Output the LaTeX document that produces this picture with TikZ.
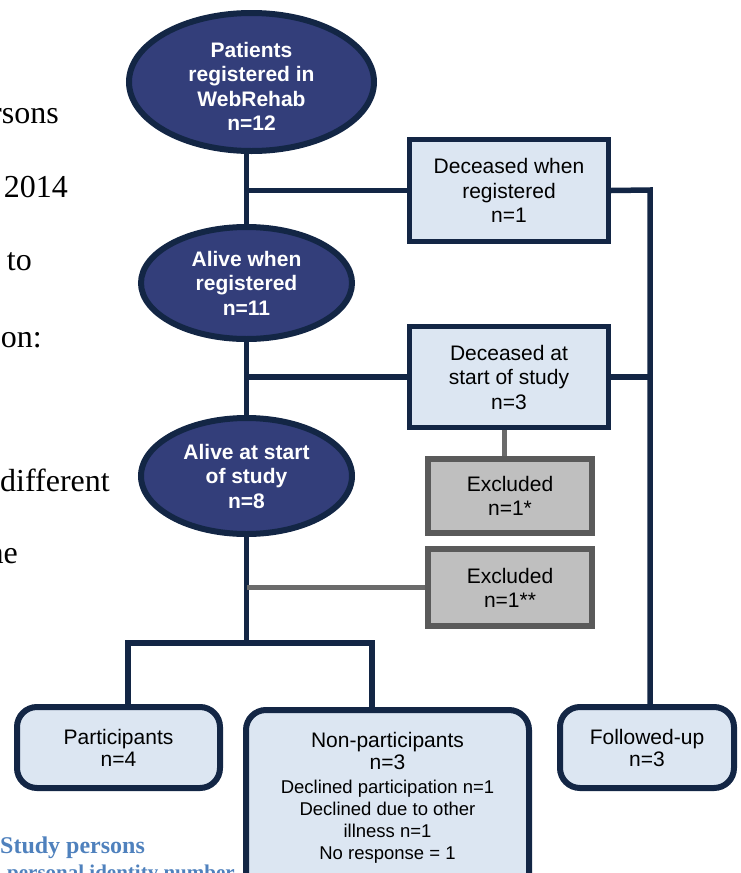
\documentclass[tikz,border=0pt]{standalone}
\usepackage{fontspec}
\setmainfont{Liberation Serif}
\newfontfamily\flowfont{Liberation Sans}
\usetikzlibrary{shapes.geometric}

\definecolor{navy}{HTML}{132645}
\definecolor{oval}{HTML}{333E7A}
\definecolor{pale}{HTML}{DCE6F2}
\definecolor{greyfill}{HTML}{BFBFBF}
\definecolor{greyedge}{HTML}{5A5A5A}
\definecolor{headblue}{HTML}{4F81BD}

\tikzset{
    stage/.style={ellipse, draw=navy, fill=oval, line width=6pt, inner sep=0pt,
        text=white, align=center, font=\flowfont\bfseries\fontsize{21}{24.5}\selectfont},
    stagetext/.style={text=white, align=center, inner sep=0pt,
        font=\flowfont\bfseries\fontsize{21}{24.5}\selectfont},
    dead/.style={rectangle, draw=navy, fill=pale, line width=5pt, inner sep=0pt,
        minimum width=199pt, align=center, font=\flowfont\fontsize{21}{24.5}\selectfont},
    excl/.style={rectangle, draw=greyedge, fill=greyfill, line width=6pt, inner sep=0pt,
        minimum width=164pt, align=center, font=\flowfont\fontsize{21}{24}\selectfont},
    outcome/.style={rectangle, rounded corners=20pt, draw=navy, fill=pale, line width=6pt,
        inner sep=0pt, minimum height=81pt, align=center, font=\flowfont\fontsize{21}{22}\selectfont},
    link/.style={draw=navy, line width=5.5pt},
    greylink/.style={draw=greyedge!90, line width=5pt},
    pagetext/.style={anchor=base east, inner sep=0pt, font=\fontsize{32}{38}\selectfont},
    headtext/.style={anchor=base west, inner sep=0pt, text=headblue, font=\bfseries}
}

\begin{document}
\begin{tikzpicture}[x=1pt,y=-1pt]
    \useasboundingbox (0,0) rectangle (741,873);
    \clip (0,0) rectangle (741,873);

    % text of the page behind the chart
    \node[pagetext] (persons) at (59,123) {rsons};
    \node[pagetext] (year) at (68,197) {2014};
    \node[pagetext] (to) at (32,270) {to};
    \node[pagetext] (colon) at (42,347) {on:};
    \node[pagetext] (different) at (110,491) {different};
    \node[pagetext] (the) at (18,563) {he};
    \node[headtext, font=\bfseries\fontsize{24}{29}\selectfont] (heading) at (0,853) {Study persons};
    \node[headtext, font=\bfseries\fontsize{21}{25}\selectfont] (identity) at (7,879) {personal identity number};

    % connectors
    \coordinate (rail) at (650,190);
    \coordinate (split) at (246.5,643);
    \coordinate (splitL) at (128,643);
    \coordinate (splitR) at (372,643);

    \node[stage, minimum width=245pt, minimum height=138pt,
        label={[stagetext, yshift=-4.5pt]center:{Patients\\registered in\\WebRehab\\n=12}}]
        (registered) at (251.5,82) {};
    \node[stage, minimum width=211pt, minimum height=112pt] (alive) at (246.5,283)
        {Alive when\\registered\\n=11};
    \node[stage, minimum width=211pt, minimum height=116pt] (start) at (246.5,476)
        {Alive at start\\of study\\n=8};

    \node[dead, minimum height=102pt] (deadreg) at (509,190.5) {Deceased when\\registered\\n=1};
    \node[dead, minimum height=101pt] (deadstart) at (509,377) {Deceased at\\start of study\\n=3};

    \node[excl, minimum height=74pt] (exclA) at (510,496) {Excluded\\n=1*};
    \node[excl, minimum height=77pt] (exclB) at (510,587.5) {Excluded\\n=1**};

    \node[outcome, minimum width=203pt] (part) at (118.5,747.5) {Participants\\n=4};
    \node[outcome, minimum width=174pt] (followed) at (647,747.5) {Followed-up\\n=3};
    \node[outcome, anchor=north, inner xsep=6pt, inner ysep=22pt] (nonpart) at (387.5,707)
        {\parbox[t][175pt][t]{271pt}{\centering
            Non-participants\\n=3\par\vspace{3pt}
            {\fontsize{18.5}{21.7}\selectfont
            Declined participation n=1\\Declined due to other\\illness n=1\\No response = 1\par}}};

    \draw[link] (registered.south -| alive) -- (alive.north);
    \draw[link] (alive.south) -- (start.north);
    \draw[link] (start.south) -- (split);
    \draw[link] (deadreg.west -| alive) -- (deadreg.west);
    \draw[link] (deadstart.west -| alive) -- (deadstart.west);
    \draw[link] (deadreg.east) -- (rail) -- (rail |- followed.north);
    \draw[link] (deadstart.east) -- (deadstart.east -| rail);
    \draw[link] (splitL |- part.north) -- (splitL) -- (splitR) -- (splitR |- nonpart.north);

    \draw[greylink] ([xshift=-5pt]deadstart.south) -- ([xshift=-5pt]deadstart.south |- exclA.north);
    \draw[greylink] (exclB.west -| start) -- (exclB.west);

\end{tikzpicture}
\end{document}
